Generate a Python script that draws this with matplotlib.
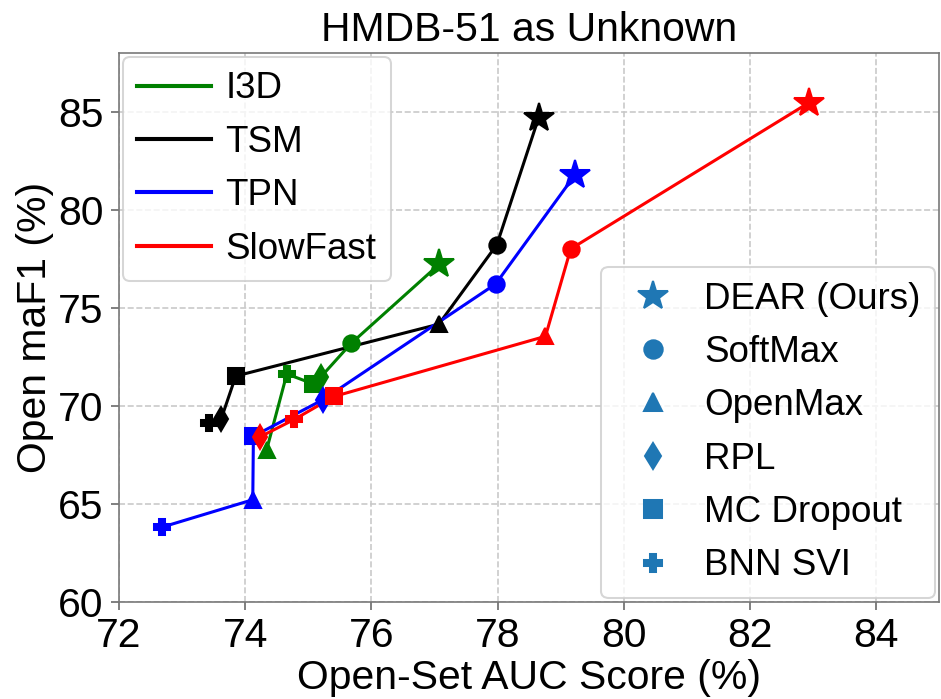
import matplotlib
matplotlib.use("Agg")
import matplotlib.pyplot as plt
from matplotlib.lines import Line2D
import numpy as np

plt.rcParams['font.family'] = ['Liberation Sans', 'DejaVu Sans']

methods = ['DEAR (Ours)', 'SoftMax', 'OpenMax', 'RPL', 'MC Dropout', 'BNN SVI']
markers = ['*', 'o', '^', 'd', 's', 'P']

models = ['I3D', 'TSM', 'TPN', 'SlowFast']
colors = ['green', 'black', 'blue', 'red']

# Open-set AUC (%) and open maF1 (%), one value per method in the order above
i3d_auc = [77.08, 75.68, 74.34, 75.20, 75.07, 74.66]
i3d_f1 = [77.24, 73.19, 67.76, 71.48, 71.13, 71.63]
tsm_auc = [78.65, 77.99, 77.07, 73.62, 73.85, 73.42]
tsm_f1 = [84.69, 78.23, 74.17, 69.34, 71.52, 69.11]
tpn_auc = [79.23, 77.97, 74.12, 75.23, 74.13, 72.68]
tpn_f1 = [81.80, 76.22, 65.21, 70.31, 68.45, 63.81]
slowfast_auc = [82.94, 79.16, 78.76, 74.23, 75.41, 74.78]
slowfast_f1 = [85.48, 78.01, 73.55, 68.41, 70.48, 69.31]

aucs = [i3d_auc, tsm_auc, tpn_auc, slowfast_auc]
f1s = [i3d_f1, tsm_f1, tpn_f1, slowfast_f1]

fig = plt.figure(figsize=(941 / 147, 699 / 147), dpi=147)
ax = fig.add_axes([0.1265, 0.139, 0.8715, 0.785])

for auc, f1, c in zip(aucs, f1s, colors):
    auc = np.array(auc)
    f1 = np.array(f1)
    # connect the methods from low to high AUC
    order = np.argsort(auc)
    ax.plot(auc[order], f1[order], color=c, lw=1.5, zorder=2)
    for k, m in enumerate(markers):
        ms = 15 if m == '*' else 8
        ax.plot(auc[k], f1[k], marker=m, color=c, ms=ms, ls='none', zorder=3)

ax.set_xlim(72, 85)
ax.set_ylim(60, 88)
ax.set_xticks(np.arange(72, 85, 2))
ax.set_yticks(np.arange(60, 86, 5))
ax.tick_params(labelsize=20, color='#666666', length=4)
ax.grid(True, ls='--', color='#c8c8c8', lw=0.8)
ax.set_axisbelow(True)
for s in ax.spines.values():
    s.set_color('#777777')

ax.set_title('HMDB-51 as Unknown', fontsize=20)
ax.set_xlabel('Open-Set AUC Score (%)', fontsize=20, labelpad=2)
ax.set_ylabel('Open maF1 (%)', fontsize=20, labelpad=2)

model_handles = [Line2D([0], [0], color=c, lw=2) for c in colors]
leg1 = ax.legend(model_handles, models, loc='upper left', fontsize=18,
                 borderaxespad=0.1, handletextpad=0.4)
ax.add_artist(leg1)

method_handles = [Line2D([0], [0], marker=m, color='#1f77b4', ls='none',
                         ms=15 if m == '*' else 9) for m in markers]
ax.legend(method_handles, methods, loc='lower right', fontsize=18,
          borderaxespad=0.1, handletextpad=0.4)

fig.savefig('out.png', dpi=147)
